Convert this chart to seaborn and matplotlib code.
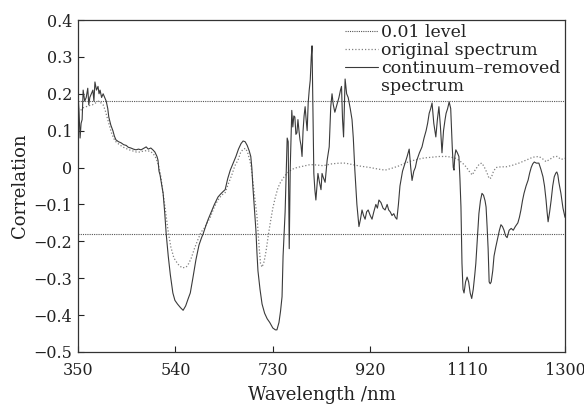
import numpy as np
import pandas as pd
import matplotlib
matplotlib.use("Agg")
import matplotlib.pyplot as plt
from matplotlib.lines import Line2D
import seaborn as sns

# continuum-removed spectrum correlation (solid line)
wl_cr = [350, 352, 354, 356, 358, 360, 363, 366, 369, 371, 373, 376, 379, 381, 383, 386, 389, 391, 393, 396,
         399, 402, 405, 408, 410, 414, 418, 421, 424, 429, 434, 439, 444, 448, 453, 458, 463, 468, 473, 478,
         483, 487, 492, 496, 500, 504, 506, 508, 510, 513, 516, 519, 522, 526, 530, 535, 539, 544, 550, 555,
         560, 565, 569, 574, 580, 586, 591, 594, 600, 604, 610, 616, 623, 628, 633, 637, 642, 647, 652, 658,
         663, 668, 672, 676, 680, 684, 687, 689, 691, 694, 697, 699, 701, 705, 709, 714, 719, 724, 730, 735,
         738, 742, 745, 748, 750, 752, 754, 756, 758, 760, 762, 764, 767, 769, 771, 773, 775, 777, 779, 781,
         783, 785, 787, 789, 791, 793, 795, 797, 799, 801, 803, 805, 806.5, 808, 810, 812, 814, 816, 818, 821,
         824, 826, 828, 832, 836, 840, 843, 845.5, 848, 851, 855, 859, 862, 864, 866, 868, 870, 871, 874, 877,
         881, 884.5, 887, 890, 894, 898, 901, 904, 907, 910, 913, 916, 920, 923.5, 927, 931, 934, 937, 941, 945,
         949, 953, 956, 959, 962.5, 966, 969, 972, 975, 978, 983, 988, 992, 996, 999, 1001.6, 1005, 1008, 1011, 1016,
         1021, 1025, 1029, 1032, 1035, 1038, 1040.6, 1044, 1048, 1051, 1054, 1057, 1060, 1063, 1066, 1068, 1071, 1074, 1077, 1080,
         1082, 1083.5, 1085, 1087, 1090, 1093, 1095, 1097, 1099, 1101, 1103, 1106, 1109, 1112, 1115, 1118, 1121, 1124, 1126, 1129,
         1132, 1135, 1138, 1141, 1144, 1146, 1148, 1150, 1152, 1154, 1156, 1159, 1161.5, 1165, 1169, 1172, 1175, 1178, 1181, 1184,
         1187, 1189, 1191, 1195, 1199, 1203, 1208, 1211, 1214, 1217, 1220, 1224, 1228, 1231, 1234, 1237, 1240, 1244, 1249, 1253,
         1257, 1260, 1263, 1265, 1267, 1270, 1273, 1276, 1279, 1282, 1284, 1286, 1288, 1292, 1296, 1300]
r_cr = [0.20, 0.15, 0.08, 0.12, 0.13, 0.21, 0.18, 0.19, 0.215, 0.17, 0.19, 0.20, 0.21, 0.18, 0.232, 0.21, 0.22, 0.20, 0.21, 0.19,
        0.20, 0.19, 0.18, 0.16, 0.137, 0.115, 0.10, 0.085, 0.075, 0.07, 0.067, 0.062, 0.06, 0.055, 0.053, 0.05, 0.048, 0.05, 0.048, 0.052,
        0.056, 0.05, 0.053, 0.048, 0.042, 0.03, 0.02, -0.01, -0.02, -0.045, -0.07, -0.12, -0.18, -0.24, -0.29, -0.34, -0.36, -0.37, -0.38, -0.387,
        -0.375, -0.355, -0.34, -0.30, -0.25, -0.21, -0.19, -0.18, -0.155, -0.14, -0.12, -0.10, -0.08, -0.072, -0.065, -0.06, -0.03, -0.007, 0.01, 0.03,
        0.05, 0.065, 0.072, 0.07, 0.06, 0.045, 0.03, 0.0, -0.05, -0.11, -0.17, -0.23, -0.28, -0.33, -0.37, -0.395, -0.41, -0.42, -0.435, -0.44,
        -0.44, -0.42, -0.39, -0.35, -0.24, -0.18, -0.12, -0.02, 0.08, 0.07, -0.22, 0.0, 0.155, 0.11, 0.14, 0.137, 0.09, 0.094, 0.13, 0.10,
        0.075, 0.06, 0.03, 0.10, 0.14, 0.165, 0.13, 0.10, 0.175, 0.21, 0.237, 0.30, 0.33, 0.19, -0.016, -0.06, -0.088, -0.05, -0.016, -0.04,
        -0.06, -0.016, -0.025, -0.04, 0.02, 0.056, 0.165, 0.20, 0.17, 0.15, 0.17, 0.19, 0.21, 0.22, 0.13, 0.083, 0.19, 0.24, 0.20, 0.19,
        0.16, 0.13, 0.08, -0.007, -0.10, -0.16, -0.14, -0.115, -0.13, -0.14, -0.12, -0.115, -0.13, -0.14, -0.12, -0.10, -0.11, -0.088, -0.095, -0.11,
        -0.115, -0.10, -0.115, -0.12, -0.13, -0.125, -0.135, -0.14, -0.10, -0.05, -0.01, 0.012, 0.03, 0.05, 0.0, -0.035, -0.01, 0.0, 0.02, 0.04,
        0.056, 0.08, 0.10, 0.12, 0.147, 0.16, 0.175, 0.12, 0.083, 0.13, 0.165, 0.11, 0.04, 0.10, 0.13, 0.147, 0.16, 0.178, 0.16, 0.056,
        0.0, -0.007, 0.03, 0.048, 0.04, 0.03, -0.03, -0.107, -0.26, -0.33, -0.34, -0.31, -0.297, -0.31, -0.34, -0.355, -0.33, -0.29, -0.26, -0.19,
        -0.125, -0.09, -0.07, -0.075, -0.09, -0.107, -0.16, -0.22, -0.31, -0.315, -0.31, -0.28, -0.24, -0.215, -0.19, -0.17, -0.155, -0.16, -0.17, -0.185,
        -0.19, -0.18, -0.17, -0.165, -0.17, -0.16, -0.15, -0.135, -0.115, -0.09, -0.07, -0.05, -0.034, -0.015, 0.0, 0.01, 0.015, 0.012, 0.012, -0.005,
        -0.025, -0.05, -0.088, -0.12, -0.147, -0.12, -0.088, -0.05, -0.025, -0.015, -0.012, -0.02, -0.04, -0.07, -0.11, -0.135]

# original spectrum correlation (dotted line)
wl_orig = [350, 355, 360, 366, 372, 378, 384, 390, 395, 399, 403, 407, 411, 415, 420, 425, 431, 437, 443, 450,
           457, 464, 471, 478, 485, 492, 497, 501, 505, 508, 511, 515, 520, 525, 531, 537, 545, 553, 561, 566,
           571, 577, 584, 590, 596, 602, 608, 615, 622, 630, 637, 643, 650, 656, 662, 667, 672, 677, 681, 685,
           688, 691, 695, 699, 703, 706, 709, 713, 717, 721, 725, 730, 735, 740, 745, 752, 758, 767, 777, 790,
           803, 815, 828, 845, 860, 871, 885, 900, 920, 935, 949, 962, 975, 988, 1000, 1012, 1025, 1040, 1055, 1070,
           1085, 1093, 1100, 1107, 1113, 1119, 1124, 1128, 1133, 1138, 1143, 1148, 1152, 1156, 1160, 1165, 1175, 1185, 1197, 1210,
           1224, 1237, 1249, 1256, 1263, 1270, 1279, 1285, 1292, 1300]
r_orig = [0.16, 0.155, 0.162, 0.165, 0.168, 0.17, 0.175, 0.18, 0.175, 0.17, 0.155, 0.135, 0.115, 0.095, 0.078, 0.068, 0.062, 0.056, 0.052, 0.048,
          0.045, 0.042, 0.042, 0.045, 0.046, 0.043, 0.037, 0.028, 0.015, 0.0, -0.02, -0.06, -0.11, -0.165, -0.215, -0.245, -0.262, -0.272, -0.27, -0.26,
          -0.245, -0.22, -0.195, -0.175, -0.165, -0.15, -0.135, -0.11, -0.09, -0.075, -0.068, -0.045, -0.02, 0.005, 0.02, 0.04, 0.05, 0.052, 0.04, 0.02,
          0.0, -0.035, -0.085, -0.13, -0.21, -0.26, -0.27, -0.255, -0.225, -0.185, -0.15, -0.11, -0.08, -0.055, -0.04, -0.025, -0.015, -0.005, 0.0, 0.004,
          0.008, 0.007, 0.005, 0.01, 0.012, 0.012, 0.008, 0.004, 0.0, -0.004, -0.007, -0.002, 0.004, 0.012, 0.018, 0.022, 0.026, 0.028, 0.03, 0.03,
          0.026, 0.02, 0.012, 0.002, -0.01, -0.02, -0.008, 0.0, 0.01, 0.012, 0.0, -0.015, -0.03, -0.028, -0.012, 0.0, 0.002, 0.002, 0.006, 0.012,
          0.02, 0.028, 0.03, 0.024, 0.016, 0.022, 0.03, 0.03, 0.022, 0.025]

level = 0.18  # 0.01 significance level

x_ticks = [350, 540, 730, 920, 1110, 1300]
y_ticks = [-0.5, -0.4, -0.3, -0.2, -0.1, 0, 0.1, 0.2, 0.3, 0.4]
y_labels = ['\u22120.5', '\u22120.4', '\u22120.3', '\u22120.2', '\u22120.1', '0', '0.1', '0.2', '0.3', '0.4']

df_cr = pd.DataFrame({'wl': wl_cr, 'r': r_cr})
df_orig = pd.DataFrame({'wl': wl_orig, 'r': r_orig})

sns.set_theme(style="ticks")
plt.rcParams['font.family'] = ['DejaVu Serif']
plt.rcParams['mathtext.fontset'] = 'dejavuserif'

fig = plt.figure(figsize=(5.84, 4.09), dpi=100)
ax = fig.add_axes([0.1336, 0.1394, 0.8339, 0.8117])

ax.axhline(level, color='#555555', lw=0.8, ls=(0, (1, 1)), label='0.01 level')
ax.axhline(-level, color='#555555', lw=0.8, ls=(0, (1, 1)))
sns.lineplot(data=df_orig, x='wl', y='r', ax=ax, color='#808080', lw=0.9,
             ls=(0, (1, 1.6)), label='original spectrum', estimator=None, sort=False)
sns.lineplot(data=df_cr, x='wl', y='r', ax=ax, color='#3a3a3a', lw=0.8,
             label='continuum\u2013removed', estimator=None, sort=False)

ax.set_xlim(350, 1300)
ax.set_ylim(-0.5, 0.4)
ax.set_xticks(x_ticks)
ax.set_yticks(y_ticks)
ax.set_yticklabels(y_labels)
ax.tick_params(direction='in', length=4, width=0.8, labelsize=11.5, colors='#222222')
ax.tick_params(axis='x', pad=7)
ax.tick_params(axis='y', pad=4)
for sp in ax.spines.values():
    sp.set_color('#333333')
    sp.set_linewidth(0.9)

ax.set_xlabel('Wavelength /nm', fontsize=13, color='#222222', labelpad=5)
ax.set_ylabel('Correlation', fontsize=13, color='#222222', labelpad=3)

handles, labels = ax.get_legend_handles_labels()
handles.append(Line2D([], [], color='none'))
labels.append('spectrum')
ax.legend(handles, labels, loc='upper right', bbox_to_anchor=(1.0, 1.0), frameon=False, fontsize=12.5,
          handlelength=1.9, handletextpad=0.2, labelspacing=0.05, borderaxespad=0.15,
          borderpad=0.1, labelcolor='#222222')

fig.savefig('out.png', dpi=100)
